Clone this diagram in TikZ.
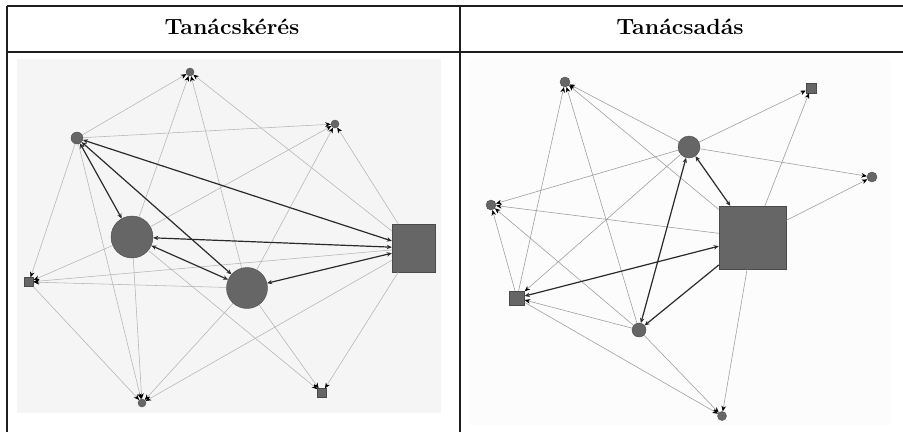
\documentclass[tikz,border=0pt]{standalone}
\usepackage{graphicx}
\usetikzlibrary{arrows.meta}
\definecolor{nodegray}{HTML}{666666}
\definecolor{nodeline}{HTML}{4A4A4A}
\definecolor{lightline}{HTML}{B4B4B4}
\definecolor{lightline2}{HTML}{9A9A9A}
\definecolor{darkline}{HTML}{2A2A2A}
\definecolor{panelbg}{HTML}{F5F5F5}
\definecolor{panelbg2}{HTML}{FCFCFC}
\definecolor{rule}{HTML}{1E1E1E}
\tikzset{
  cnode/.style={circle,fill=nodegray,draw=nodeline,line width=0.4pt,inner sep=0pt,minimum size=#1},
  snode/.style={rectangle,fill=nodegray,draw=nodeline,line width=0.4pt,inner sep=0pt},
  lt/.style={draw=lightline,line width=0.55pt,-{Stealth[black,length=5.5pt,width=4.6pt]}},
  lt2/.style={draw=lightline2,line width=0.55pt,-{Stealth[black,length=5.5pt,width=4.6pt]}},
  dk/.style={draw=darkline,line width=1.2pt,{Stealth[length=5pt,width=4.4pt]}-{Stealth[length=5pt,width=4.4pt]}},
  dk1/.style={draw=darkline,line width=1.2pt,-{Stealth[length=5pt,width=4.4pt]}},
  tablerule/.style={draw=rule,line width=1.2pt},
  head/.style={font=\bfseries\fontsize{22}{26}\selectfont,inner sep=0pt}
}
\begin{document}
\begin{tikzpicture}[x=1pt,y=-1pt]
\useasboundingbox (0,0) rectangle (903,432);
\fill[white] (0,0) rectangle (903,432);
% panel backgrounds
\fill[panelbg] (17,59) rectangle (441,413);
\fill[panelbg2] (470,59) rectangle (890,425);
% table
\coordinate (tl) at (7,6);
\coordinate (tr) at (903,6);
\coordinate (hl) at (7,52);
\coordinate (hr) at (903,52);
\coordinate (bl) at (7,432);
\coordinate (st) at (460,6);
\coordinate (sb) at (460,432);
\draw[tablerule] (tl) -- (tr);
\draw[tablerule] (hl) -- (hr);
\draw[tablerule] (tl) -- (bl);
\draw[tablerule] (st) -- (sb);
\node[head] (h1) at (232,27) {\scalebox{1.05}[1]{Tanácskérés}};
\node[head] (h2) at (680,27) {\scalebox{1.05}[1]{Tanácsadás}};

% ---------- left network ----------
\node[cnode=8pt] (LA) at (190,72) {};
\node[cnode=8pt] (LB) at (335,124) {};
\node[cnode=12pt] (LC) at (77,138) {};
\node[cnode=42pt] (LD) at (132,237) {};
\node[snode,minimum width=43pt,minimum height=48pt] (LE) at (413.5,248) {};
\node[cnode=41pt] (LF) at (247,288) {};
\node[snode,minimum size=9pt] (LG) at (29,282) {};
\node[cnode=8pt] (LH) at (142,403) {};
\node[snode,minimum size=9pt] (LI) at (322,393) {};

\draw[lt] (LC) -- (LA);
\draw[lt] (LD) -- (LA);
\draw[lt] (LF) -- (LA);
\draw[lt] (LE) -- (LA);
\draw[lt] (LC) -- (LB);
\draw[lt] (LD) -- (LB);
\draw[lt] (LF) -- (LB);
\draw[lt] (LE) -- (LB);
\draw[lt] (LE) -- (LG);
\draw[lt] (LF) -- (LG);
\draw[lt] (LD) -- (LG);
\draw[lt] (LC) -- (LG);
\draw[lt] (LC) -- (LH);
\draw[lt] (LD) -- (LH);
\draw[lt] (LF) -- (LH);
\draw[lt] (LE) -- (LH);
\draw[lt] (LG) -- (LH);
\draw[lt] (LD) -- (LI);
\draw[lt] (LF) -- (LI);
\draw[lt] (LE) -- (LI);
\draw[dk] (LC) -- (LD);
\draw[dk] (LC) -- (LF);
\draw[dk] (LC) -- (LE);
\draw[dk] (LD) -- (LE);
\draw[dk] (LD) -- (LF);
\draw[dk] (LF) -- (LE);

% ---------- right network ----------
\node[cnode=10pt] (RA) at (565,82) {};
\node[snode,minimum size=10pt] (RB) at (811,88) {};
\node[cnode=22pt] (RM) at (689,147) {};
\node[cnode=10pt] (RR) at (872,177) {};
\node[cnode=10pt] (RL) at (491,205) {};
\node[snode,minimum width=67pt,minimum height=63pt] (RS) at (752.5,237.5) {};
\node[snode,minimum width=15pt,minimum height=14pt] (RQ) at (517,298) {};
\node[cnode=14pt] (RN) at (639,330) {};
\node[cnode=9pt] (RZ) at (722,416) {};

\draw[lt2] (RM) -- (RA);
\draw[lt2] (RS) -- (RA);
\draw[lt2] (RQ) -- (RA);
\draw[lt2] (RN) -- (RA);
\draw[lt2] (RM) -- (RB);
\draw[lt2] (RS) -- (RB);
\draw[lt2] (RM) -- (RR);
\draw[lt2] (RS) -- (RR);
\draw[lt2] (RM) -- (RL);
\draw[lt2] (RS) -- (RL);
\draw[lt2] (RQ) -- (RL);
\draw[lt2] (RN) -- (RL);
\draw[lt2] (RM) -- (RQ);
\draw[lt2] (RN) -- (RQ);
\draw[lt2] (RQ) -- (RZ);
\draw[lt2] (RN) -- (RZ);
\draw[lt2] (RS) -- (RZ);
\draw[dk] (RN) -- (RM);
\draw[dk] (RM) -- (RS);
\draw[dk] (RS) -- (RQ);
\draw[dk1] (RS) -- (RN);
\end{tikzpicture}
\end{document}
